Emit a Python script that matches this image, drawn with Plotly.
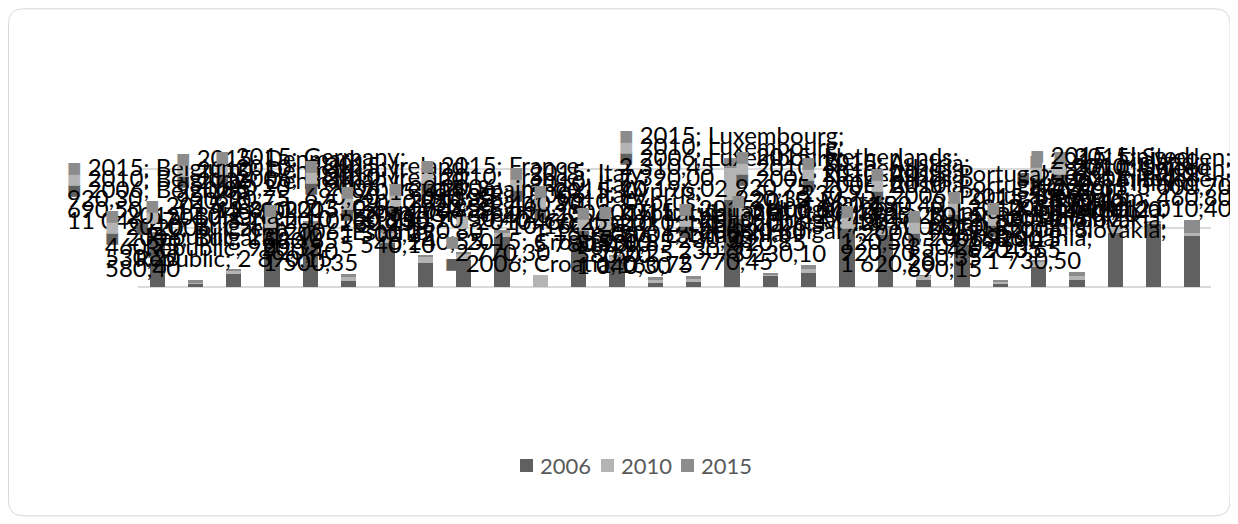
import plotly.graph_objects as go

countries = [
    "Belgium", "Bulgaria", "Czech Republic", "Denmark", "Germany", "Estonia",
    "Ireland", "Greece", "Spain", "France", "Croatia", "Italy", "Cyprus",
    "Latvia", "Lithuania", "Luxembourg", "Hungary", "Malta", "Netherlands",
    "Austria", "Poland", "Portugal", "Romania", "Slovenia", "Slovakia",
    "Finland", "Sweden", "United Kingdom",
]
years = ["2006", "2010", "2015"]

v2006 = [11046.27, 580.40, 2890.15, 12940.60, 13860.20, 1500.35, 10160.80,
         5540.10, 6240.55, 11550.40, 0, 10160.25, 5780.90, 1040.30, 1160.75,
         20196.02, 2770.45, 3230.10, 13400.00, 12010.85, 1620.20, 9700.60,
         690.15, 4620.35, 1730.50, 12470.90, 14780.20, 12010.40]
v2010 = [690.50, 530.20, 920.35, 920.10, 690.75, 920.40, 2310.60, 1500.25,
         1390.80, 920.55, 2770.30, 920.15, 1160.45, 580.70, 760.25, 7390.00,
         230.60, 920.85, 920.30, 1620.45, 920.70, 920.20, 580.35, 1160.90,
         920.65, 1390.10, 230.45, 460.80]
v2015 = [920.30, 460.75, 230.40, 920.85, 690.20, 580.65, 690.90, 230.15,
         230.70, 690.35, 0, 460.90, 460.25, 580.10, 530.85, 2310.45, 230.30,
         920.60, 920.75, 230.95, 120.50, 690.40, 350.20, 230.85, 920.15,
         460.60, 230.35, 3000.70]

COLORS = {"2006": "#606060", "2010": "#b4b4b4", "2015": "#8c8c8c"}
FONT = "Lato, 'Noto Sans', sans-serif"

# page has an 8px body margin, so work in page pixels and subtract it
OFF = 8
W, H = 1238 - OFF, 524 - OFF
L, R, T, B = 138 - OFF, 1211 - OFF, 110 - OFF, 287.5 - OFF
Y_MAX = 40890


def px_x(p):
    return (p - OFF - L) / (R - L)


def px_y(p):
    return (B - (p - OFF)) / (B - T)


def fmt(v):
    if v == 0:
        return "0"
    return f"{v:,.2f}".replace(",", " ").replace(".", ",")


def wrap_label(yr, country, value, width=18):
    words = country.split(" ")
    tokens = [f"{yr};"] + words[:-1] + [words[-1] + ";", fmt(value)]
    lines, cur = [], ""
    for t in tokens:
        if cur and len(cur) + 1 + len(t) > width:
            lines.append(cur)
            cur = t
        else:
            cur = f"{cur} {t}" if cur else t
    lines.append(cur)
    return lines


series = {"2006": v2006, "2010": v2010, "2015": v2015}

fig = go.Figure()
for yr in years:
    fig.add_trace(go.Bar(
        name=yr,
        x=countries,
        y=series[yr],
        marker_color=COLORS[yr],
        marker_line_width=0,
        showlegend=False,
    ))

# messy data labels (series; category; value) sitting above the columns
totals = [a + b + c for a, b, c in zip(v2006, v2010, v2015)]
cap = (B - (200 - OFF)) / (B - T) * Y_MAX
n = len(countries)
step = (R - L) / n
annotations = []
for j, yr in enumerate(years):
    for i, c in enumerate(countries):
        lines = wrap_label(yr, c, series[yr][i])
        text = (f"<span style='color:{COLORS[yr]}'>■</span> "
                + "<br>".join(lines))
        centre = L + OFF + step * (i + 0.5)
        ann = dict(
            x=c, y=min(totals[i], cap), xref="x", yref="y",
            yanchor="bottom", yshift=-4 + 11 * j,
            showarrow=False, align="left",
            text=text,
            font=dict(family=FONT, size=24, color="#000000"),
        )
        if i >= n - 2:
            ann.update(xanchor="right", xshift=1234 - centre)
        annotations.append(ann)

# legend drawn by hand so the entries sit as tight as in the original
shapes = []
legend_x = [520, 601, 681]
for yr, lx in zip(years, legend_x):
    shapes.append(dict(type="rect", xref="paper", yref="paper",
                       x0=px_x(lx), x1=px_x(lx + 13),
                       y0=px_y(473), y1=px_y(460),
                       fillcolor=COLORS[yr], line_width=0))
    annotations.append(dict(x=px_x(lx + 18), y=px_y(466.5), xref="paper",
                            yref="paper", xanchor="left", yanchor="middle",
                            showarrow=False, text=yr,
                            font=dict(family=FONT, size=22, color="#595959")))

# rounded chart border
r = 15
x0, x1, y0, y1 = 8.5, 1230, 8.5, 517
path = (
    f"M {px_x(x0 + r)},{px_y(y0)} L {px_x(x1 - r)},{px_y(y0)} "
    f"Q {px_x(x1)},{px_y(y0)} {px_x(x1)},{px_y(y0 + r)} "
    f"L {px_x(x1)},{px_y(y1 - r)} Q {px_x(x1)},{px_y(y1)} {px_x(x1 - r)},{px_y(y1)} "
    f"L {px_x(x0 + r)},{px_y(y1)} Q {px_x(x0)},{px_y(y1)} {px_x(x0)},{px_y(y1 - r)} "
    f"L {px_x(x0)},{px_y(y0 + r)} Q {px_x(x0)},{px_y(y0)} {px_x(x0 + r)},{px_y(y0)} Z"
)
shapes.append(dict(type="path", path=path, xref="paper", yref="paper",
                   line=dict(color="#d9d9d9", width=1), layer="below"))

fig.update_layout(
    width=W, height=H,
    margin=dict(l=L, r=W - R, t=T, b=H - B, pad=0, autoexpand=False),
    plot_bgcolor="white",
    paper_bgcolor="white",
    barmode="stack",
    bargap=0.6,
    showlegend=False,
    font=dict(family=FONT, size=20, color="#595959"),
    xaxis=dict(range=[-0.5, n - 0.5], autorange=False,
               showticklabels=False, showgrid=False, showline=False,
               zeroline=False, ticks=""),
    yaxis=dict(range=[0, Y_MAX], autorange=False, dtick=Y_MAX / 3,
               showticklabels=False, showgrid=True, gridcolor="#d9d9d9",
               gridwidth=1.5, zeroline=True, zerolinecolor="#d9d9d9",
               zerolinewidth=1.5, ticks=""),
    shapes=shapes,
    annotations=annotations,
)

fig.write_html("out.html")
